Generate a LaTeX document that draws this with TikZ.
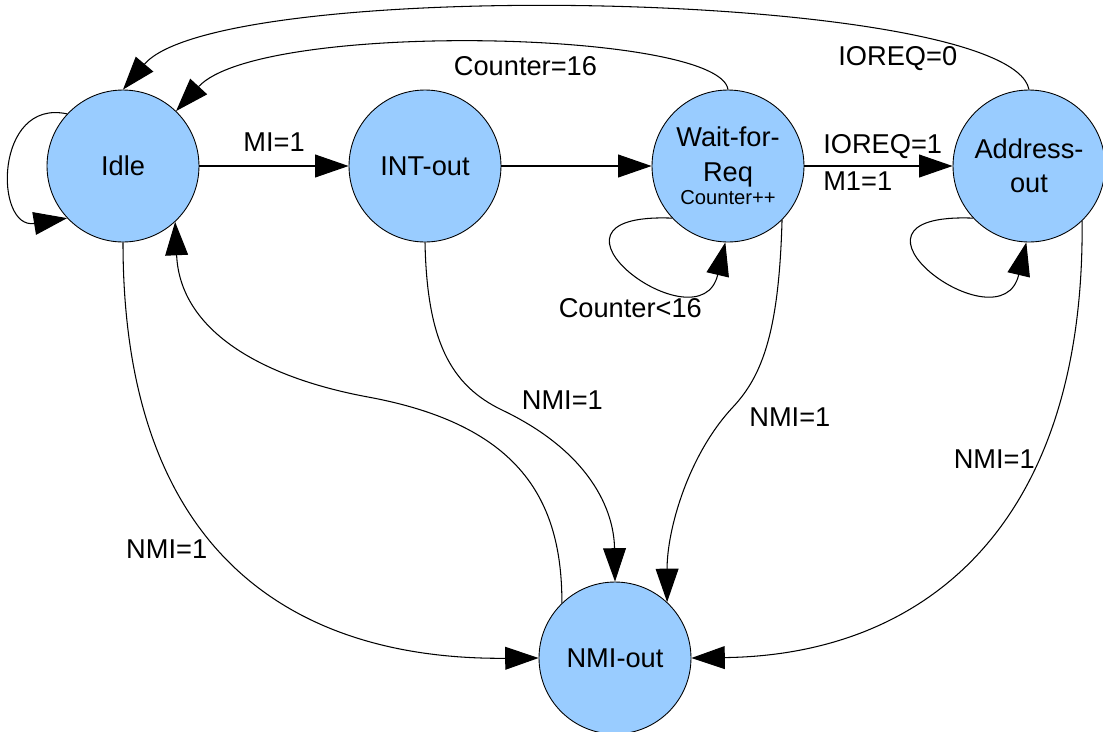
\documentclass[tikz,border=0pt]{standalone}
\usepackage{fontspec}
\setmainfont{Liberation Sans}
\usetikzlibrary{arrows.meta}
\usetikzlibrary{positioning}
\definecolor{sblue}{rgb}{0.6, 0.8, 1}
\tikzset{state/.style = {draw, line width=0.5pt, circle, fill=sblue, minimum size=3.04cm, inner sep=0, align=center, font=\fontsize{15.5}{19.5}\selectfont}}
\tikzset{trans/.style = {line width=0.6pt, -{Triangle[length=19pt, width=13pt]}}}
\tikzset{lbl/.style = {font=\fontsize{15.5}{19}\selectfont, inner sep=2pt}}

\begin{document}
\begin{tikzpicture}[x=0.02cm, y=-0.02cm]
    \useasboundingbox (0, 0) rectangle (1103, 731);

    \node [state] (idle) at (123, 166) {Idle};
    \node [state] (intout) at (425, 166) {INT-out};
    \node [state] (wait) at (728, 166) {Wait-for-\\Req\\[-6pt]{\fontsize{11.5}{13}\selectfont Counter++}};
    \node [state] (addr) at (1029, 166) {Address-\\out};
    \node [state] (nmi) at (615, 658) {NMI-out};

    % loops
    \draw [trans] (idle.137) .. controls (-6, 98) and (-6, 230) .. (idle.223);
    \draw [trans] (wait.223) .. controls (515, 212) and (700, 350) .. node [lbl, pos=0.5, below=15pt] {Counter<16} (wait.268);
    \draw [trans] (addr.223) .. controls (816, 212) and (1001, 350) .. (addr.268);

    % top row
    \draw [trans] (idle) -- node [lbl, above=6pt] {MI=1} (intout);
    \draw [trans] (intout) -- (wait);
    \draw [trans] (wait) -- node [lbl, pos=0.1, anchor=south west, yshift=2pt] {IOREQ=1}
                             node [lbl, pos=0.1, anchor=north west, yshift=-1pt] {M1=1} (addr);

    % back to idle
    \draw [trans] (wait.north) .. controls (720, 30) and (260, 20) .. node [lbl, pos=0.44, below=5pt] {Counter=16} (idle.46);
    \draw [trans] (addr.north) .. controls (1010, -10) and (220, -25) .. node [lbl, pos=0.245, below=6pt] {IOREQ=0} (idle.north);
    \draw [trans] (nmi.134) .. controls (562, 500) and (520, 425) .. (368, 397)
                            .. controls (260, 377) and (180, 330) .. (idle.313);

    % into nmi
    \draw [trans] (idle.south) .. controls (123, 560) and (300, 660) .. node [lbl, pos=0.45, left=5pt] {NMI=1} (nmi.west);
    \draw [trans] (intout.south) .. controls (427, 340) and (450, 385) .. (502, 410) node [lbl, above right, xshift=9pt, yshift=-2pt] {NMI=1}
                                 .. controls (590, 452) and (614, 510) .. (nmi.north);
    \draw [trans] (wait.315) .. controls (779, 330) and (763, 375) .. (733, 407) node [lbl, right, xshift=7pt, yshift=-6pt] {NMI=1}
                             .. controls (688, 455) and (667, 530) .. (nmi.47);
    \draw [trans] (addr.314) .. controls (1085, 520) and (930, 655) .. node [lbl, pos=0.32, left] {NMI=1} (nmi.east);
\end{tikzpicture}
\end{document}
